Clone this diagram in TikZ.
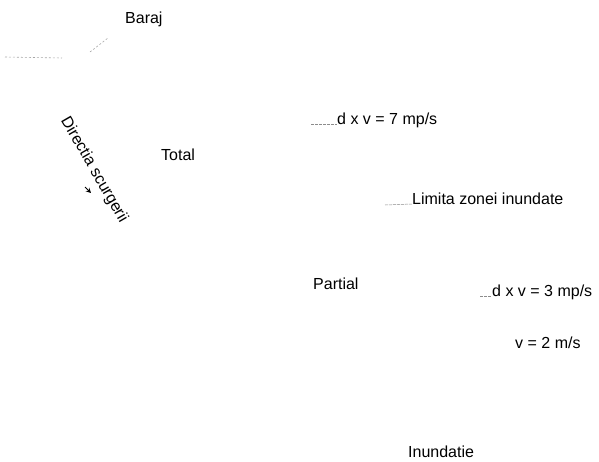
\documentclass[tikz,border=0pt]{standalone}
\usepackage{fontspec}
\setmainfont{Liberation Sans}
\usetikzlibrary{arrows.meta}
\begin{document}
\begin{tikzpicture}[x=1pt,y=-1pt,
  lbl/.style={anchor=base west,inner sep=0pt,font=\fontsize{16}{18}\selectfont},
  lead/.style={draw=black!45,line width=0.5pt,dash pattern=on 3pt off 1pt},
  faint/.style={draw=black!35,line width=0.6pt,dash pattern=on 2pt off 2pt}]
\useasboundingbox (0,0) rectangle (599,461);
\node[lbl] (baraj) at (125,23) {Baraj};
\node[lbl] (total) at (161,160) {Total};
\node[lbl] (d7) at (337,124) {d x v = 7 mp/s};
\node[lbl] (lim) at (412,204) {Limita zonei inundate};
\node[lbl] (partial) at (313,289) {Partial};
\node[lbl] (d3) at (492,296) {d x v = 3 mp/s};
\node[lbl] (v2) at (515,348) {v = 2 m/s};
\node[lbl] (inund) at (408,457) {Inundatie};
\node[inner sep=0pt,rotate=-60,font=\fontsize{16}{18}\selectfont] (dir) at (94,170) {Directia scurgerii};
% leader dashes
\coordinate (l7) at (311,124);
\draw[lead] (l7) -- (d7.base west);
\coordinate (ll) at (385,205);
\draw[lead] (ll) -- (lim.base west);
\coordinate (l3) at (480,296);
\draw[lead] (l3) -- (d3.base west);
% faint dam outline
\coordinate (f1) at (5,57);
\coordinate (f2) at (62,58);
\coordinate (f3) at (90,52);
\coordinate (f4) at (108,38);
\draw[faint] (f1) -- (f2);
\draw[faint] (f3) -- (f4);
% small arrow
\coordinate (a1) at (85,187);
\coordinate (a2) at (91,193);
\draw[line width=1pt,-{Stealth[length=5pt,width=5pt]}] (a1) -- (a2);
\end{tikzpicture}
\end{document}
